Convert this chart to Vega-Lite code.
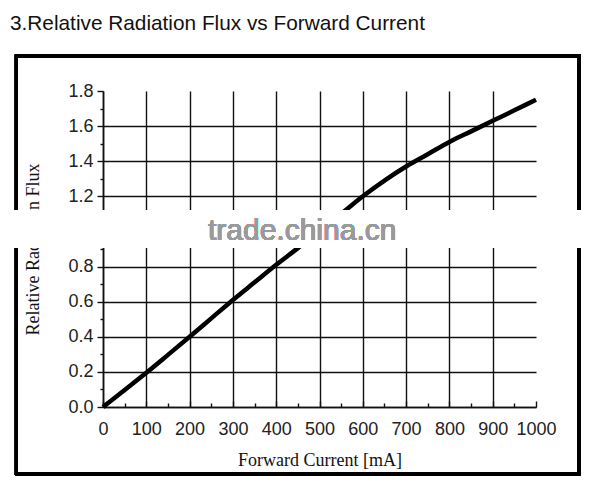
{
  "$schema": "https://vega.github.io/schema/vega-lite/v6.json",
  "background": "white",
  "autosize": "none",
  "width": 433,
  "height": 316,
  "padding": {"left": 103, "top": 91, "right": 64, "bottom": 79},
  "config": {
    "view": {"stroke": null},
    "axis": {
      "domainColor": "#111",
      "domainWidth": 1.6,
      "tickColor": "#111",
      "tickWidth": 1.4,
      "gridColor": "#111",
      "gridWidth": 1.4,
      "labelFont": "Liberation Sans",
      "labelFontSize": 18,
      "labelColor": "#222",
      "titleFont": "Liberation Serif",
      "titleFontSize": 18,
      "titleFontWeight": "normal",
      "titleColor": "#111"
    }
  },
  "title": {
    "text": "3.Relative Radiation Flux vs Forward Current",
    "font": "Liberation Sans",
    "fontSize": 20.8,
    "fontWeight": "normal",
    "color": "#111",
    "anchor": "start",
    "frame": "group",
    "offset": 20,
    "dx": -93
  },
  "data": {
    "values": [
      {"current": 0, "flux": 0},
      {"current": 50, "flux": 0.097},
      {"current": 100, "flux": 0.195},
      {"current": 150, "flux": 0.297},
      {"current": 200, "flux": 0.4},
      {"current": 250, "flux": 0.505},
      {"current": 300, "flux": 0.61},
      {"current": 350, "flux": 0.71},
      {"current": 400, "flux": 0.81},
      {"current": 450, "flux": 0.905},
      {"current": 500, "flux": 1.005},
      {"current": 550, "flux": 1.1},
      {"current": 600, "flux": 1.2},
      {"current": 650, "flux": 1.29},
      {"current": 700, "flux": 1.37},
      {"current": 750, "flux": 1.44},
      {"current": 800, "flux": 1.51},
      {"current": 850, "flux": 1.57},
      {"current": 900, "flux": 1.63},
      {"current": 950, "flux": 1.69},
      {"current": 1000, "flux": 1.75}
    ]
  },
  "layer": [
    {
      "mark": {"type": "line", "color": "black", "strokeWidth": 4.5, "interpolate": "monotone"},
      "encoding": {
        "x": {
          "field": "current",
          "type": "quantitative",
          "scale": {"domain": [0, 1000], "nice": false},
          "title": "Forward Current [mA]",
          "axis": {
            "values": [0, 50, 100, 150, 200, 250, 300, 350, 400, 450, 500, 550, 600, 650, 700, 750, 800, 850, 900, 950, 1000],
            "tickCount": 30,
            "labelExpr": "datum.value % 100 == 0 ? datum.value : ''",
            "labelPadding": 19,
            "labelFlush": false,
            "labelOverlap": false,
            "tickSize": {"condition": {"test": "datum.value % 100 != 0", "value": -4}, "value": -6},
            "gridOpacity": {"condition": {"test": "datum.value % 100 != 0 || datum.value >= 1000", "value": 0}, "value": 1},
            "titlePadding": 11
          }
        },
        "y": {
          "field": "flux",
          "type": "quantitative",
          "scale": {"domain": [0, 1.8], "nice": false},
          "title": "Relative Radiation Flux",
          "axis": {
            "values": [0, 0.1, 0.2, 0.3, 0.4, 0.5, 0.6, 0.7, 0.8, 0.9, 1.0, 1.1, 1.2, 1.3, 1.4, 1.5, 1.6, 1.7, 1.8],
            "tickCount": 30,
            "labelExpr": "round(datum.value * 10) % 2 == 0 ? format(datum.value, '.1f') : ''",
            "labelPadding": 4,
            "labelOverlap": false,
            "labelFlush": false,
            "tickSize": {"condition": {"test": "round(datum.value * 10) % 2 == 1", "value": 3}, "value": 6},
            "gridOpacity": {"condition": {"test": "round(datum.value * 10) % 2 == 1 || datum.value > 1.75", "value": 0}, "value": 1},
            "titlePadding": 25
          }
        }
      }
    },
    {
      "mark": {"type": "rect", "fill": null, "stroke": "black", "strokeWidth": 3},
      "encoding": {
        "x": {"datum": -200, "type": "quantitative"},
        "x2": {"datum": 1099},
        "y": {"datum": 2.0, "type": "quantitative"},
        "y2": {"datum": -0.38}
      }
    },
    {
      "mark": {"type": "rect", "fill": "white", "opacity": 0.85},
      "encoding": {
        "x": {"datum": -240, "type": "quantitative"},
        "x2": {"datum": 1150},
        "y": {"datum": 0.905, "type": "quantitative"},
        "y2": {"datum": 1.12}
      }
    },
    {
      "mark": {"type": "text", "text": "trade.china.cn", "font": "Liberation Sans", "fontSize": 30, "color": "#9a9a9a", "align": "center", "baseline": "middle"},
      "encoding": {
        "x": {"datum": 460, "type": "quantitative"},
        "y": {"datum": 1.0, "type": "quantitative"}
      }
    }
  ]
}
